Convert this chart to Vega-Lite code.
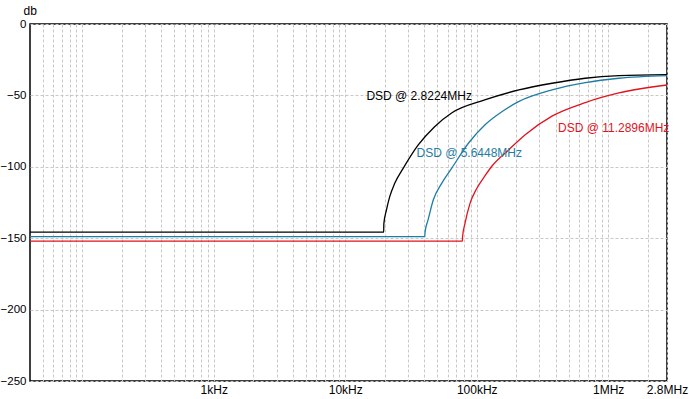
{
  "$schema": "https://vega.github.io/schema/vega-lite/v6.json",
  "width": 637,
  "height": 357,
  "autosize": {"type": "none"},
  "padding": {"left": 30, "top": 24, "right": 22, "bottom": 18},
  "background": "white",
  "config": {
    "view": {"stroke": "black", "strokeWidth": 1.5},
    "font": "Liberation Sans",
    "axis": {
      "labelFont": "Liberation Sans",
      "labelFontSize": 12,
      "labelColor": "black",
      "ticks": false,
      "domain": false,
      "gridColor": "#c8c8c8",
      "gridDash": [3, 2],
      "gridWidth": 1,
      "gridOpacity": 1
    }
  },
  "datasets": {
    "curves": [
      {"s": "a", "f": 40, "db": -145.7},
      {"s": "a", "f": 19600, "db": -145.7},
      {"s": "a", "f": 19650, "db": -140},
      {"s": "a", "f": 20560, "db": -130.3},
      {"s": "a", "f": 21790, "db": -120.9},
      {"s": "a", "f": 23780, "db": -111.6},
      {"s": "a", "f": 27570, "db": -101.1},
      {"s": "a", "f": 35900, "db": -84.7},
      {"s": "a", "f": 47800, "db": -71.9},
      {"s": "a", "f": 64400, "db": -62.3},
      {"s": "a", "f": 115000, "db": -53.2},
      {"s": "a", "f": 209000, "db": -46.2},
      {"s": "a", "f": 374000, "db": -41.5},
      {"s": "a", "f": 667000, "db": -38.0},
      {"s": "a", "f": 1210000, "db": -36.2},
      {"s": "a", "f": 2800000, "db": -35.5},
      {"s": "b", "f": 40, "db": -148.9},
      {"s": "b", "f": 40300, "db": -148.9},
      {"s": "b", "f": 40400, "db": -146},
      {"s": "b", "f": 42800, "db": -136.6},
      {"s": "b", "f": 46700, "db": -123.3},
      {"s": "b", "f": 54100, "db": -111.6},
      {"s": "b", "f": 64400, "db": -101.1},
      {"s": "b", "f": 86400, "db": -83.5},
      {"s": "b", "f": 115700, "db": -70.5},
      {"s": "b", "f": 155200, "db": -61.4},
      {"s": "b", "f": 208100, "db": -54.4},
      {"s": "b", "f": 373700, "db": -46.2},
      {"s": "b", "f": 670800, "db": -41.1},
      {"s": "b", "f": 1207000, "db": -38.0},
      {"s": "b", "f": 2800000, "db": -36.2},
      {"s": "c", "f": 40, "db": -152.1},
      {"s": "c", "f": 77800, "db": -152.1},
      {"s": "c", "f": 78000, "db": -149},
      {"s": "c", "f": 81400, "db": -139.6},
      {"s": "c", "f": 88900, "db": -125.6},
      {"s": "c", "f": 100000, "db": -115.2},
      {"s": "c", "f": 115700, "db": -106.2},
      {"s": "c", "f": 130200, "db": -99.6},
      {"s": "c", "f": 174600, "db": -88.2},
      {"s": "c", "f": 233700, "db": -77.5},
      {"s": "c", "f": 373700, "db": -64.5},
      {"s": "c", "f": 670800, "db": -55.0},
      {"s": "c", "f": 1207000, "db": -48.3},
      {"s": "c", "f": 2800000, "db": -42.7}
    ],
    "labels": [
      {"s": "a", "f": 14480, "db": -50.4, "t": "DSD @ 2.8224MHz"},
      {"s": "b", "f": 34800, "db": -90.3, "t": "DSD @ 5.6448MHz"},
      {"s": "c", "f": 415300, "db": -72.8, "t": "DSD @ 11.2896MHz"}
    ]
  },
  "layer": [
    {
      "data": {"name": "curves"},
      "mark": {"type": "line", "strokeWidth": 1.3, "clip": true, "interpolate": "monotone"},
      "encoding": {
        "x": {
          "field": "f",
          "type": "quantitative",
          "scale": {"type": "log", "domain": [40, 2800000], "nice": false},
          "axis": {
            "title": null,
            "values": [50, 60, 70, 80, 90, 100, 200, 300, 400, 500, 600, 700, 800, 900, 1000, 2000, 3000, 4000, 5000, 6000, 7000, 8000, 9000, 10000, 20000, 30000, 40000, 50000, 60000, 70000, 80000, 90000, 100000, 200000, 300000, 400000, 500000, 600000, 700000, 800000, 900000, 1000000, 2000000, 2800000],
            "labelExpr": "datum.value == 1000 ? '1kHz' : datum.value == 10000 ? '10kHz' : datum.value == 100000 ? '100kHz' : datum.value == 1000000 ? '1MHz' : datum.value == 2800000 ? '2.8MHz' : ''",
            "labelPadding": 3,
            "labelOverlap": false,
            "labelFlush": false,
            "labelBound": false
          }
        },
        "y": {
          "field": "db",
          "type": "quantitative",
          "scale": {"domain": [-250, 0], "nice": false},
          "axis": {
            "values": [-250, -200, -150, -100, -50, 0],
            "title": "db",
            "titleAngle": 0,
            "titleAlign": "left",
            "titleBaseline": "alphabetic",
            "titleX": -7,
            "titleY": -10,
            "titleFontSize": 12,
            "titleFontWeight": "normal",
            "titleFont": "Liberation Sans",
            "titleColor": "black",
            "labelPadding": 4,
            "labelFontSize": 11.5,
            "labelFlush": false,
            "labelOverlap": false
          }
        },
        "color": {
          "field": "s",
          "type": "nominal",
          "scale": {"domain": ["a", "b", "c"], "range": ["#000000", "#1f7ca3", "#e3121d"]},
          "legend": null
        }
      }
    },
    {
      "data": {"name": "labels"},
      "mark": {"type": "text", "align": "left", "baseline": "middle", "fontSize": 12, "font": "Liberation Sans"},
      "encoding": {
        "x": {"field": "f", "type": "quantitative"},
        "y": {"field": "db", "type": "quantitative"},
        "text": {"field": "t"},
        "color": {"field": "s", "type": "nominal", "legend": null}
      }
    }
  ]
}
